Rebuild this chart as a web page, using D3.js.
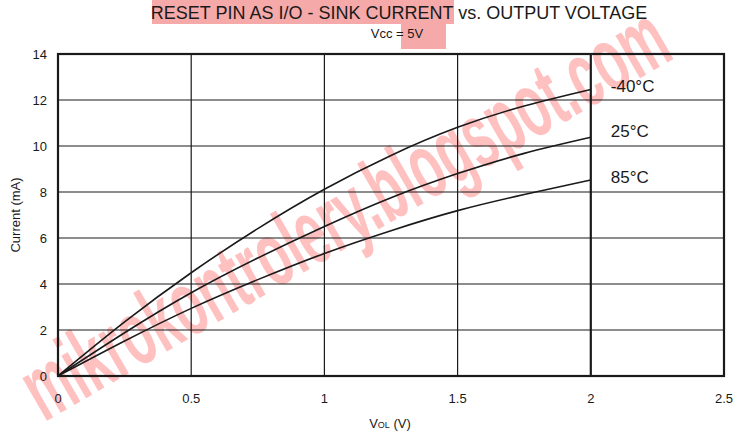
<!DOCTYPE html>
<html>
<head>
<meta charset="utf-8">
<script src="https://cdn.jsdelivr.net/npm/d3@7"></script>
<style>
  html, body { margin: 0; padding: 0; background: #fff; }
  svg { display: block; font-family: "Liberation Sans", Arial, Helvetica, sans-serif; }
</style>
</head>
<body>
<svg id="chart" width="738" height="435"></svg>
<script>
// ---- data ----
const voltage = [0, 0.25, 0.5, 0.75, 1, 1.25, 1.5, 1.75, 2];
const seriesM40 = [0, 2.35, 4.49, 6.41, 8.12, 9.59, 10.81, 11.74, 12.46];
const series25  = [0, 1.88, 3.62, 5.13, 6.50, 7.75, 8.80, 9.68, 10.38];
const series85  = [0, 1.52, 2.94, 4.19, 5.33, 6.32, 7.19, 7.89, 8.52];
const seriesLabels = ["-40°C", "25°C", "85°C"];
const labelY = [12.35, 10.39, 8.39];
const labelX = 2.075;
const xTicks = [0, 0.5, 1, 1.5, 2, 2.5];
const xTickLabels = ["0", "0.5", "1", "1.5", "2", "2.5"];
const yTicks = [0, 2, 4, 6, 8, 10, 12, 14];
const titleMain = "RESET PIN AS I/O - SINK CURRENT vs. OUTPUT VOLTAGE";
const subTitle = "Vcc = 5V";
const watermark = "mikrokontrolery.blogspot.com";

const svg = d3.select("#chart");
const x = d3.scaleLinear().domain([0, 2.5]).range([58, 724]);
const y = d3.scaleLinear().domain([0, 14]).range([376, 54]);

// title highlights
svg.append("rect").attr("x", 152).attr("y", 0).attr("width", 302).attr("height", 24).attr("fill", "#f6a9a9");
svg.append("rect").attr("x", 401).attr("y", 24).attr("width", 45).attr("height", 25).attr("fill", "#f6a9a9");

// watermark (behind)
svg.append("text")
  .attr("transform", "translate(360,240) rotate(-30) scale(1,1.5)")
  .attr("text-anchor", "middle")
  .attr("font-family", "'Liberation Sans Narrow', 'Liberation Sans', sans-serif")
  .attr("font-weight", "bold")
  .attr("font-size", 62)
  .attr("textLength", 730)
  .attr("lengthAdjust", "spacingAndGlyphs")
  .attr("fill", "#ffc0c0")
  .text(watermark);

// grid
const g = svg.append("g");
g.selectAll("line.h").data(yTicks.slice(1, -1)).join("line")
  .attr("x1", x(0)).attr("x2", x(2.5))
  .attr("y1", d => y(d)).attr("y2", d => y(d))
  .attr("stroke", "#1a1a1a").attr("stroke-width", 1.2);
g.selectAll("line.v").data(xTicks.slice(1, -1)).join("line")
  .attr("y1", y(0)).attr("y2", y(14))
  .attr("x1", d => x(d)).attr("x2", d => x(d))
  .attr("stroke", "#1a1a1a").attr("stroke-width", d => d === 2 ? 2.2 : 1.2);
g.append("rect").attr("x", x(0)).attr("y", y(14))
  .attr("width", x(2.5) - x(0)).attr("height", y(0) - y(14))
  .attr("fill", "none").attr("stroke", "#1a1a1a").attr("stroke-width", 2.2);

// curves
const line = d3.line().x((d, i) => x(voltage[i])).y(d => y(d)).curve(d3.curveNatural);
[seriesM40, series25, series85].forEach(s => {
  svg.append("path").attr("d", line(s)).attr("fill", "none")
    .attr("stroke", "#1a1a1a").attr("stroke-width", 1.6);
});

// series labels
svg.selectAll("text.sl").data(seriesLabels).join("text")
  .attr("x", x(labelX)).attr("y", (d, i) => y(labelY[i]))
  .attr("font-size", 17).attr("fill", "#1a1a1a").text(d => d);

// tick labels
svg.selectAll("text.yt").data(yTicks).join("text")
  .attr("x", 47).attr("y", d => y(d) + 5)
  .attr("text-anchor", "end").attr("font-size", 13).attr("fill", "#1a1a1a").text(d => d);
svg.selectAll("text.xt").data(xTicks).join("text")
  .attr("x", d => x(d)).attr("y", 403)
  .attr("text-anchor", "middle").attr("font-size", 13).attr("fill", "#1a1a1a")
  .text((d, i) => xTickLabels[i]);

// axis titles
svg.append("text").attr("transform", "translate(20,215) rotate(-90)")
  .attr("text-anchor", "middle").attr("font-size", 13).attr("fill", "#1a1a1a").text("Current (mA)");
const xt = svg.append("text").attr("x", 390).attr("y", 428)
  .attr("text-anchor", "middle").attr("font-size", 13).attr("fill", "#1a1a1a");
xt.append("tspan").text("V");
xt.append("tspan").attr("font-size", 9).text("OL");
xt.append("tspan").text(" (V)");

// titles
svg.append("text").attr("x", 399).attr("y", 19).attr("text-anchor", "middle")
  .attr("font-size", 18).attr("fill", "#1a1a1a").text(titleMain);
svg.append("text").attr("x", 397).attr("y", 38).attr("text-anchor", "middle")
  .attr("font-size", 13).attr("fill", "#1a1a1a").text(subTitle);
</script>
</body>
</html>
